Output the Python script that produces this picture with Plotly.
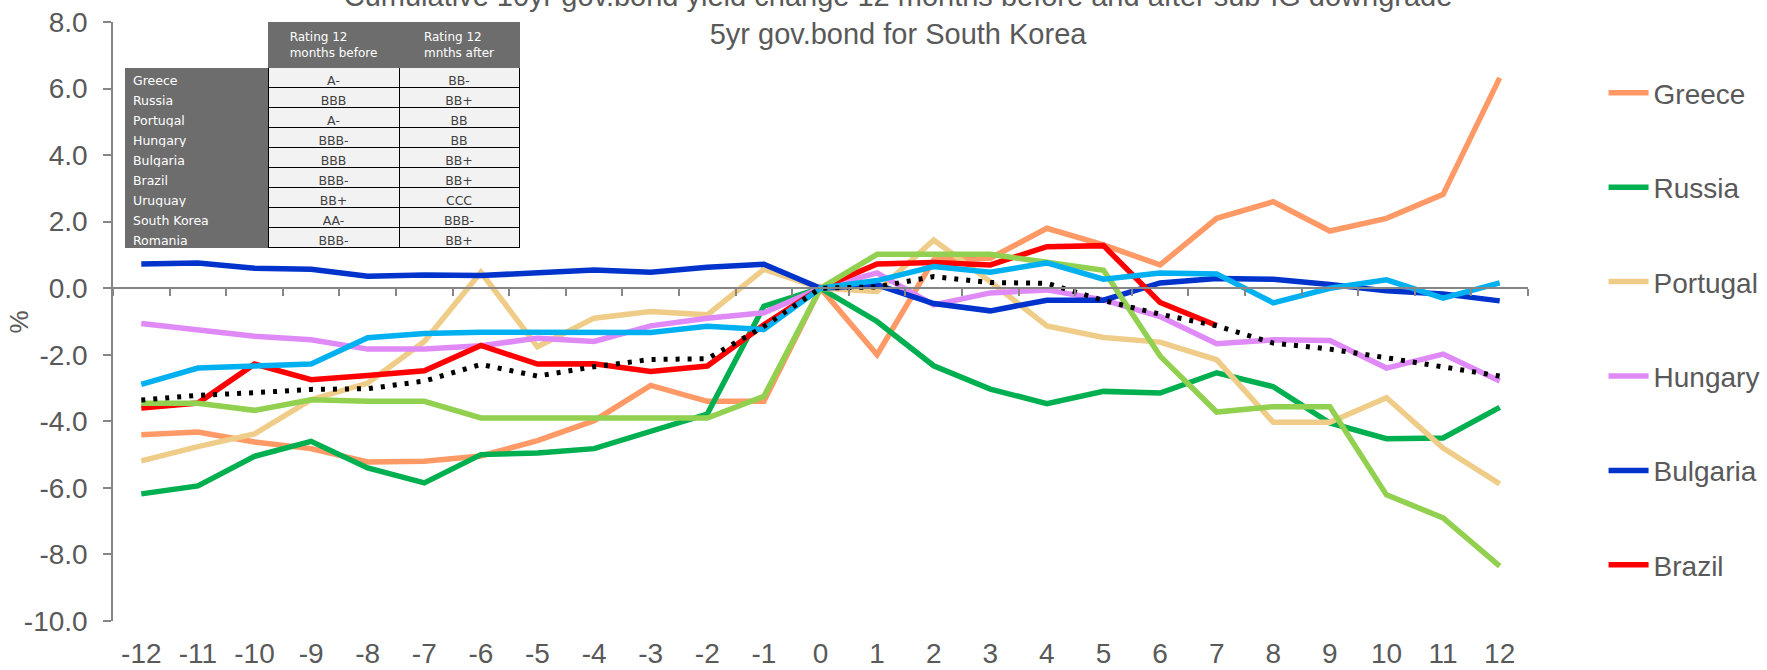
import plotly.graph_objects as go

months = list(range(-12, 13))
month_labels = [str(m) for m in months]
y_ticks = [-10, -8, -6, -4, -2, 0, 2, 4, 6, 8]
y_labels = ["%.1f" % v for v in y_ticks]

greece = [-4.4, -4.32, -4.62, -4.82, -5.22, -5.2, -5.04, -4.58, -3.98, -2.92, -3.4, -3.4, 0.0,
          -2.0, 0.85, 0.9, 1.8, 1.3, 0.7, 2.1, 2.6, 1.72, 2.1, 2.82, 6.32]
russia = [-6.18, -5.94, -5.05, -4.6, -5.4, -5.85, -5.0, -4.95, -4.82, -4.32, -3.78, -0.54, 0.0,
          -1.0, -2.33, -3.03, -3.47, -3.1, -3.15, -2.54, -2.96, -4.05, -4.52, -4.5, -3.58]
portugal = [-5.19, -4.76, -4.38, -3.35, -2.85, -1.6, 0.48, -1.76, -0.9, -0.7, -0.8, 0.57, 0.0,
            -0.1, 1.45, 0.2, -1.13, -1.48, -1.62, -2.15, -4.03, -4.03, -3.29, -4.8, -5.88]
hungary = [-1.06, -1.26, -1.44, -1.55, -1.83, -1.83, -1.73, -1.5, -1.6, -1.13, -0.9, -0.74, 0.0,
           0.46, -0.5, -0.14, -0.05, -0.35, -0.85, -1.67, -1.55, -1.57, -2.4, -1.98, -2.79]
bulgaria = [0.73, 0.76, 0.6, 0.57, 0.36, 0.4, 0.38, 0.47, 0.55, 0.48, 0.63, 0.72, 0.0,
            0.1, -0.46, -0.68, -0.36, -0.36, 0.16, 0.29, 0.27, 0.11, -0.08, -0.17, -0.38]
brazil = [-3.6, -3.45, -2.28, -2.75, -2.62, -2.48, -1.72, -2.28, -2.27, -2.5, -2.34, -1.1, 0.0,
          0.73, 0.77, 0.7, 1.25, 1.28, -0.43, -1.12, None, None, None, None, None]
uruguay = [-2.89, -2.4, -2.34, -2.28, -1.49, -1.36, -1.32, -1.33, -1.34, -1.33, -1.14, -1.24, 0.0,
           0.23, 0.65, 0.48, 0.76, 0.27, 0.46, 0.43, -0.44, 0.0, 0.25, -0.3, 0.16]
romania = [-3.46, -3.46, -3.67, -3.35, -3.4, -3.4, -3.9, -3.9, -3.9, -3.9, -3.9, -3.25, 0.0,
           1.02, 1.02, 1.02, 0.78, 0.54, -2.04, -3.72, -3.56, -3.56, -6.21, -6.9, -8.35]
south_korea = [-3.36, -3.22, -3.14, -3.04, -3.02, -2.79, -2.29, -2.64, -2.36, -2.14, -2.12, -1.15, 0.0,
               0.04, 0.35, 0.17, 0.15, -0.37, -0.78, -1.13, -1.65, -1.83, -2.09, -2.36, -2.64]

tbl_countries = ["Greece", "Russia", "Portugal", "Hungary", "Bulgaria", "Brazil",
                 "Uruguay", "South Korea", "Romania"]
tbl_before = ["A-", "BBB", "A-", "BBB-", "BBB", "BBB-", "BB+", "AA-", "BBB-"]
tbl_after = ["BB-", "BB+", "BB", "BB", "BB+", "BB+", "CCC", "BBB-", "BB+"]

GREY_TXT = "#595959"
AXIS = "#868686"
DARK = "#6d6d6d"
FONT = "Liberation Sans, Arial, sans-serif"

series = [
    ("Greece", greece, "#FF9966", True),
    ("Russia", russia, "#00B050", True),
    ("Portugal", portugal, "#EFCD88", True),
    ("Hungary", hungary, "#E08AF8", True),
    ("Bulgaria", bulgaria, "#0033CC", True),
    ("Brazil", brazil, "#FF0000", True),
    ("Romania", romania, "#92D050", False),
    ("Uruguay", uruguay, "#00B0F0", False),
]

fig = go.Figure()
for name, vals, col, leg in series:
    fig.add_trace(go.Scatter(
        x=months, y=vals, name=name, mode="lines", legendgroup=name,
        line=dict(color=col, width=5.5), showlegend=leg,
    ))

# dotted line goes on the overlay axis that carries the bottom tick labels
fig.add_trace(go.Scatter(
    x=months, y=south_korea, name="South Korea", mode="lines", xaxis="x2",
    line=dict(color="black", width=5, dash="4px,8px"), showlegend=False,
))

fig.add_trace(go.Table(
    domain=dict(x=[12 / 1415, 406 / 1415], y=[0.55, 1.0]),
    columnwidth=[143, 131, 120],
    header=dict(
        values=["", "Rating 12<br>months before", "Rating 12<br>mnths after"],
        fill_color=["white", DARK, DARK],
        line=dict(color=["white", DARK, DARK], width=1),
        font=dict(family="DejaVu Sans", size=12, color="white"),
        align="center", height=38,
    ),
    cells=dict(
        values=[tbl_countries, tbl_before, tbl_after],
        fill_color=[DARK, "#F2F2F2", "#F2F2F2"],
        line=dict(color=[DARK, "black", "black"], width=1),
        font=dict(family="DejaVu Sans", size=12.5, color=["white", "#404040", "#404040"]),
        align=["left", "center", "center"], height=20,
    ),
))

fig.add_annotation(
    text="%", textangle=-90, showarrow=False,
    xref="paper", yref="paper", x=-95 / 1415, y=0.5, xanchor="center", yanchor="middle",
    font=dict(size=26, color=GREY_TXT),
)

fig.update_layout(
    width=1767, height=670,
    paper_bgcolor="white", plot_bgcolor="white",
    margin=dict(l=113, r=239, t=22, b=49, autoexpand=False),
    font=dict(family=FONT, color=GREY_TXT),
    title=dict(
        text="Cumulative 10yr gov.bond yield change 12 months before and after sub-IG downgrade"
             "<br>5yr gov.bond for South Korea",
        font=dict(size=29, color=GREY_TXT),
        xref="paper", x=0.5548, xanchor="center",
        yref="container", y=1 - 6 / 670, yanchor="middle",
    ),
    xaxis=dict(
        range=[-12.5, 12.5], tickvals=[m + 0.5 for m in months[:-1]] + [-12.5, 12.5],
        showticklabels=False, anchor="free", position=10 / 18,
        showline=True, linecolor=AXIS, linewidth=2, ticks="outside",
        ticklen=7, tickcolor=AXIS, tickwidth=1.5, showgrid=False, zeroline=False,
        automargin=False,
    ),
    xaxis2=dict(
        overlaying="x", anchor="y", side="bottom",
        range=[-12.5, 12.5], tickvals=months, ticktext=month_labels,
        showline=False, showgrid=False, zeroline=False, ticks="",
        tickfont=dict(size=28, color=GREY_TXT), ticklabelstandoff=13,
        automargin=False,
    ),
    yaxis=dict(
        range=[-10, 8], tickvals=y_ticks, ticktext=y_labels, showgrid=False,
        zeroline=True, zerolinecolor=AXIS, zerolinewidth=2,
        showline=True, linecolor=AXIS, linewidth=1.5, ticks="outside", ticklen=8,
        tickcolor=AXIS, tickwidth=1.5, tickfont=dict(size=28, color=GREY_TXT),
        ticklabelstandoff=10, automargin=False,
    ),
    legend=dict(
        x=1.0534, xanchor="left", y=0.923, yanchor="top",
        font=dict(size=28, color=GREY_TXT), tracegroupgap=55,
        bgcolor="rgba(0,0,0,0)", itemwidth=40,
    ),
)

# the page's default body margin would shift the whole figure by 8px
fig.write_html("out.html", config={"displayModeBar": False},
               post_script="document.body.style.margin='0';")
